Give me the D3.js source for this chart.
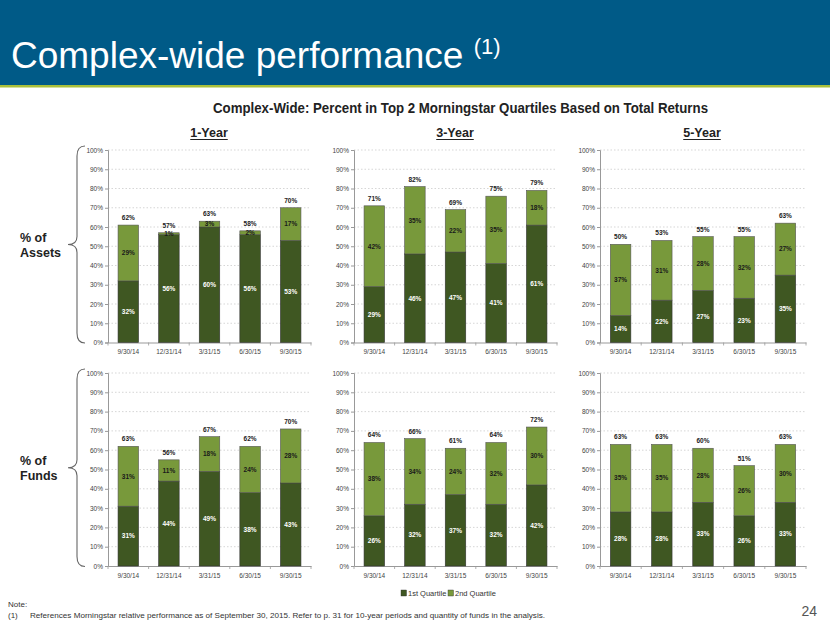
<!DOCTYPE html>
<html>
<head>
<meta charset="utf-8">
<script src="https://cdn.jsdelivr.net/npm/d3@7"></script>
<style>
  html, body { margin: 0; padding: 0; background: #fff; }
  svg { display: block; font-family: "Liberation Sans", Arial, sans-serif; }
</style>
</head>
<body>
<svg id="chart" width="830" height="623"></svg>
<script>
// ---------------- DATA ----------------
const categories = ["9/30/14", "12/31/14", "3/31/15", "6/30/15", "9/30/15"];
const yTicks = [0, 10, 20, 30, 40, 50, 60, 70, 80, 90, 100];
const seriesNames = ["1st Quartile", "2nd Quartile"];
const periods = ["1-Year", "3-Year", "5-Year"];
const rowLabels = [["% of", "Assets"], ["% of", "Funds"]];

// % of Assets
const assets1YQ1 = [32, 56, 60, 56, 53];
const assets1YQ2 = [29, 1, 3, 2, 17];
const assets1YTotal = [62, 57, 63, 58, 70];
const assets3YQ1 = [29, 46, 47, 41, 61];
const assets3YQ2 = [42, 35, 22, 35, 18];
const assets3YTotal = [71, 82, 69, 75, 79];
const assets5YQ1 = [14, 22, 27, 23, 35];
const assets5YQ2 = [37, 31, 28, 32, 27];
const assets5YTotal = [50, 53, 55, 55, 63];

// % of Funds
const funds1YQ1 = [31, 44, 49, 38, 43];
const funds1YQ2 = [31, 11, 18, 24, 28];
const funds1YTotal = [63, 56, 67, 62, 70];
const funds3YQ1 = [26, 32, 37, 32, 42];
const funds3YQ2 = [38, 34, 24, 32, 30];
const funds3YTotal = [64, 66, 61, 64, 72];
const funds5YQ1 = [28, 28, 33, 26, 33];
const funds5YQ2 = [35, 35, 28, 26, 30];
const funds5YTotal = [63, 63, 60, 51, 63];

// ---------------- STYLE / LAYOUT ----------------
const colQ1 = "#3f5722";
const colQ2 = "#78993b";
const svg = d3.select("#chart");

// header
svg.append("rect").attr("x", 0).attr("y", 0).attr("width", 830).attr("height", 85).attr("fill", "#005a87");
svg.append("rect").attr("x", 0).attr("y", 85).attr("width", 830).attr("height", 2.5).attr("fill", "#a9bf3a");
const title = svg.append("text").attr("x", 11).attr("y", 68)
  .attr("fill", "#fff").attr("font-size", 37).attr("font-family", "'Liberation Sans', Arial, sans-serif");
title.append("tspan").text("Complex-wide performance ");
title.append("tspan").attr("font-size", 22).attr("dy", -14).text("(1)");

// chart title
svg.append("text").attr("x", 213).attr("y", 113)
  .attr("font-family", "'Liberation Sans Narrow', 'Arial Narrow', 'Liberation Sans', sans-serif")
  .attr("font-weight", "bold").attr("font-size", 15).attr("fill", "#222")
  .attr("textLength", 495).attr("lengthAdjust", "spacingAndGlyphs")
  .text("Complex-Wide: Percent in Top 2 Morningstar Quartiles Based on Total Returns");

const colX = [[108, 311], [354, 557], [600, 806]];
const headingX = [209, 455, 702];
const rowY = [[342.5, 150], [566, 373]];

periods.forEach((p, i) => {
  const t = svg.append("text").attr("x", headingX[i]).attr("y", 137)
    .attr("text-anchor", "middle").attr("font-weight", "bold").attr("font-size", 12.5)
    .attr("font-family", "'Liberation Sans Narrow', 'Arial Narrow', 'Liberation Sans', sans-serif")
    .attr("fill", "#222").text(p);
  const w = t.node().getComputedTextLength();
  svg.append("line").attr("x1", headingX[i] - w / 2).attr("x2", headingX[i] + w / 2)
    .attr("y1", 139.5).attr("y2", 139.5).attr("stroke", "#222").attr("stroke-width", 1);
});

const panels = [
  [ [assets1YQ1, assets1YQ2, assets1YTotal], [assets3YQ1, assets3YQ2, assets3YTotal], [assets5YQ1, assets5YQ2, assets5YTotal] ],
  [ [funds1YQ1, funds1YQ2, funds1YTotal], [funds3YQ1, funds3YQ2, funds3YTotal], [funds5YQ1, funds5YQ2, funds5YTotal] ]
];

panels.forEach((row, r) => {
  row.forEach((pd, c) => {
    const [q1, q2, tot] = pd;
    const x = d3.scaleBand().domain(categories).range(colX[c]).paddingInner(0.5).paddingOuter(0.25);
    const y = d3.scaleLinear().domain([0, 100]).range(rowY[r]);
    const g = svg.append("g");
    const x0 = colX[c][0], x1 = colX[c][1];

    // grid
    g.selectAll(".grid").data(yTicks.filter(d => d > 0)).join("line")
      .attr("x1", x0).attr("x2", x1).attr("y1", d => y(d)).attr("y2", d => y(d))
      .attr("stroke", "#c4c4c4").attr("stroke-width", 0.7).attr("stroke-dasharray", "1.5,2");

    // y axis
    const yAxis = d3.axisLeft(y).tickValues(yTicks).tickFormat(d => d + "%").tickSize(3).tickPadding(2);
    const ya = g.append("g").attr("transform", `translate(${x0},0)`).call(yAxis);
    ya.select(".domain").attr("stroke", "#999");
    ya.selectAll(".tick line").attr("stroke", "#999");
    ya.selectAll("text").attr("font-size", 6.5).attr("fill", "#444").attr("font-family", "'Liberation Sans', Arial, sans-serif");

    // x axis
    const xAxis = d3.axisBottom(x).tickSize(0).tickPadding(7);
    const xa = g.append("g").attr("transform", `translate(0,${rowY[r][0]})`).call(xAxis);
    xa.select(".domain").attr("stroke", "#999");
    xa.selectAll("text").attr("font-size", 6.5).attr("fill", "#444").attr("font-family", "'Liberation Sans', Arial, sans-serif");
    const step = x.step();
    const bounds = d3.range(0, categories.length + 1).map(i => x0 + i * (x1 - x0) / categories.length);
    g.selectAll(".xt").data(bounds).join("line")
      .attr("x1", d => d).attr("x2", d => d).attr("y1", rowY[r][0]).attr("y2", rowY[r][0] + 3)
      .attr("stroke", "#999").attr("stroke-width", 0.8);

    // bars
    const stacked = categories.map((cat, i) => ({ cat, q1: q1[i], q2: q2[i], tot: tot[i] }));
    const bw = 20.5;
    const cx = d => x(d.cat) + x.bandwidth() / 2;
    g.selectAll(".b1").data(stacked).join("rect")
      .attr("x", d => cx(d) - bw / 2).attr("width", bw)
      .attr("y", d => y(d.q1)).attr("height", d => y(0) - y(d.q1))
      .attr("fill", colQ1).attr("stroke", "#333").attr("stroke-width", 0.6);
    g.selectAll(".b2").data(stacked).join("rect")
      .attr("x", d => cx(d) - bw / 2).attr("width", bw)
      .attr("y", d => y(d.q1 + d.q2)).attr("height", d => y(d.q1) - y(d.q1 + d.q2))
      .attr("fill", colQ2).attr("stroke", "#555").attr("stroke-width", 0.6);

    // labels
    g.selectAll(".l1").data(stacked).join("text")
      .attr("x", cx).attr("y", d => y(d.q1 / 2) + 2.3)
      .attr("text-anchor", "middle").attr("font-size", 6.5).attr("font-weight", "bold")
      .attr("fill", "#fff").text(d => d.q1 + "%");
    g.selectAll(".l2").data(stacked).join("text")
      .attr("x", cx).attr("y", d => y(d.q1 + d.q2 / 2) + 2.3)
      .attr("text-anchor", "middle").attr("font-size", 6.5).attr("font-weight", "bold")
      .attr("fill", "#1a1a1a").text(d => d.q2 + "%");
    g.selectAll(".lt").data(stacked).join("text")
      .attr("x", cx).attr("y", d => y(d.q1 + d.q2) - 5)
      .attr("text-anchor", "middle").attr("font-size", 6.5).attr("font-weight", "bold")
      .attr("fill", "#222").text(d => d.tot + "%");
  });

  // brace + row label
  const yb = rowY[r][0] + 0.5, yt = rowY[r][1] - 4;
  const ym = (yb + yt) / 2;
  const p = `M85,${yt} Q77,${yt} 77,${yt + 10} L77,${ym - 8} Q77,${ym} 68,${ym} Q77,${ym} 77,${ym + 8} L77,${yb - 10} Q77,${yb} 85,${yb}`;
  svg.append("path").attr("d", p).attr("fill", "none").attr("stroke", "#666").attr("stroke-width", 1.1);
  rowLabels[r].forEach((t, k) => {
    svg.append("text").attr("x", 20).attr("y", ym - 3 + k * 15)
      .attr("font-size", 12.5).attr("font-weight", "bold").attr("fill", "#222").text(t);
  });
});

// legend
const lg = svg.append("g").attr("font-size", 7.5).attr("fill", "#333")
  .attr("font-family", "'Liberation Sans Narrow', 'Arial Narrow', 'Liberation Sans', sans-serif");
const legX = [401, 448];
seriesNames.forEach((s, i) => {
  lg.append("rect").attr("x", legX[i]).attr("y", 590).attr("width", 5.5).attr("height", 6)
    .attr("fill", i === 0 ? colQ1 : colQ2).attr("stroke", "#333").attr("stroke-width", 0.4);
  lg.append("text").attr("x", legX[i] + 7).attr("y", 596).text(s);
});

// notes
const nf = "'Liberation Sans Narrow', 'Arial Narrow', 'Liberation Sans', sans-serif";
svg.append("text").attr("x", 8).attr("y", 607).attr("font-size", 8).attr("fill", "#333").attr("font-family", nf).text("Note:");
svg.append("text").attr("x", 8).attr("y", 618).attr("font-size", 8).attr("fill", "#333").attr("font-family", nf).text("(1)");
svg.append("text").attr("x", 30).attr("y", 618).attr("font-size", 8).attr("fill", "#333").attr("font-family", nf)
  .attr("textLength", 515).attr("lengthAdjust", "spacingAndGlyphs")
  .text("References Morningstar relative performance as of September 30, 2015. Refer to p. 31 for 10-year periods and quantity of funds in the analysis.");
svg.append("text").attr("x", 817).attr("y", 616).attr("text-anchor", "end").attr("font-size", 14).attr("fill", "#555").text("24");
</script>
</body>
</html>
